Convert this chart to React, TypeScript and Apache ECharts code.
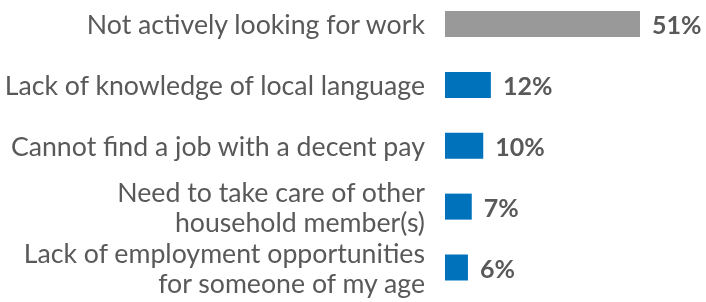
import React, { useEffect, useRef } from "react";
import * as echarts from "echarts";

const categories = [
  "Not actively looking for work",
  "Lack of knowledge of local language",
  "Cannot find a job with a decent pay",
  "Need to take care of other\nhousehold member(s)",
  "Lack of employment opportunities\nfor someone of my age",
];
const values = [51, 12, 10, 7, 6];
const barColors = ["#999999", "#0072BC", "#0072BC", "#0072BC", "#0072BC"];

export default function App() {
  const ref = useRef<HTMLDivElement>(null);
  useEffect(() => {
    const chart = echarts.init(ref.current!, null, { renderer: "svg" });
    chart.setOption({
      animation: false,
      grid: { left: 445, right: 1, top: 24, height: 245.7, containLabel: false },
      xAxis: { type: "value", min: 0, max: 68, show: false },
      yAxis: {
        type: "category",
        inverse: true,
        boundaryGap: false,
        data: categories,
        axisLine: { show: false },
        axisTick: { show: false },
        axisLabel: {
          interval: 0,
          margin: 20,
          fontFamily: "Lato",
          fontSize: 26.7,
          lineHeight: 30,
          padding: [0, 0, 9, 0],
          color: "#595959",
          align: "right",
        },
      },
      series: [
        {
          type: "bar",
          data: values.map((v, i) => ({ value: v, itemStyle: { color: barColors[i] } })),
          barWidth: 26,
          label: {
            show: true,
            position: "right",
            distance: 12,
            formatter: "{c}%",
            fontFamily: "Lato",
            fontWeight: "bold",
            fontSize: 25,
            color: "#595959",
          },
        },
      ],
    });
    return () => chart.dispose();
  }, []);
  return (
    <div
      ref={ref}
      style={{ position: "fixed", left: 0, top: 0, width: 706, height: 302 }}
    />
  );
}
